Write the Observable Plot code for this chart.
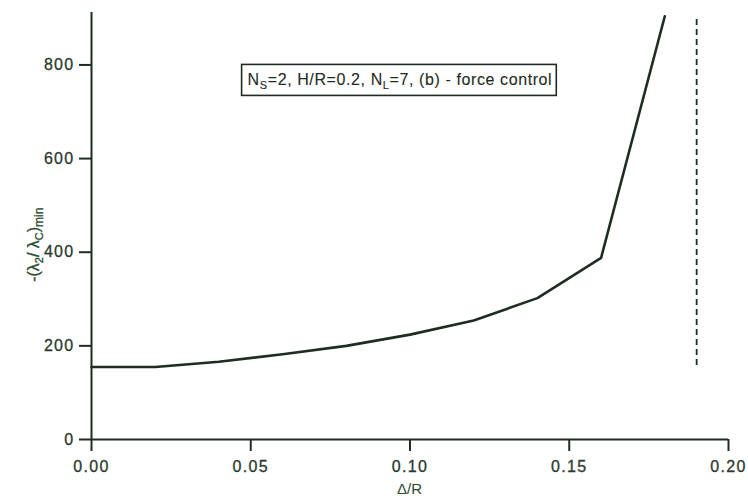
<!DOCTYPE html>
<html><head><meta charset="utf-8">
<script src="https://cdn.jsdelivr.net/npm/d3@7"></script>
<script src="https://cdn.jsdelivr.net/npm/@observablehq/plot@0.6"></script>
<style>body{margin:0;background:#fff;overflow:hidden;} svg{font-family:"Liberation Sans",Arial,sans-serif;display:block;}</style>
</head><body><div id="chart"></div>
<script>
const deltaR = [0.00, 0.02, 0.04, 0.06, 0.08, 0.10, 0.12, 0.14, 0.16, 0.18];
const ratio  = [155, 155, 166, 182, 200, 224, 254, 302, 388, 904];
const limitX = 0.19;
const limitY = [158, 904];
const xTicks = [0, 0.05, 0.10, 0.15, 0.20];
const yTicks = [0, 200, 400, 600, 800];
const ink = "#1e2c22";
const labelInk = "#2a3a2e";
const data = deltaR.map((d, i) => ({x: d, y: ratio[i]}));

const plot = Plot.plot({
  width: 748, height: 501,
  marginLeft: 91, marginRight: 20, marginTop: 12, marginBottom: 62,
  style: {fontSize: "16px", fontFamily: "Liberation Sans, Arial, sans-serif", color: ink},
  x: {domain: [0, 0.2]},
  y: {domain: [0, 912]},
  marks: [
    Plot.ruleX([0], {stroke: ink, strokeWidth: 2}),
    Plot.ruleY([0], {stroke: ink, strokeWidth: 2}),
    Plot.axisX({ticks: xTicks, tickFormat: d3.format(".2f"), tickSize: 12, tickPadding: 9, label: null, stroke: ink, strokeWidth: 2, fontSize: 16, fill: labelInk}),
    Plot.axisY({ticks: yTicks, tickSize: 12, tickPadding: 5, label: null, stroke: ink, strokeWidth: 2, fontSize: 16, fill: labelInk}),
    Plot.ruleX([limitX], {y1: limitY[0], y2: limitY[1], stroke: ink, strokeWidth: 1.8, strokeDasharray: "6,4"}),
    Plot.line(data, {x: "x", y: "y", stroke: ink, strokeWidth: 2.6})
  ]
});
document.getElementById("chart").appendChild(plot);

const svg = d3.select(plot);
// widen tick label glyph spacing like the printed original
svg.selectAll("g[aria-label='x-axis tick label'] text, g[aria-label='y-axis tick label'] text")
  .attr("letter-spacing", "1.3px").attr("stroke", labelInk).attr("stroke-width", 0.3);
const xs = plot.scale("x"), ys = plot.scale("y");
// x label
svg.append("text").attr("x", xs.apply(0.1)).attr("y", 494).attr("text-anchor", "middle")
  .attr("font-size", 15).attr("fill", "#2a4a30").text("Δ/R");
// y label
const yl = svg.append("text").attr("transform", `translate(39,${ys.apply(415)}) rotate(-90)`)
  .attr("text-anchor", "middle").attr("font-size", 16).attr("fill", "#2a4a30")
  .attr("stroke", "#2a4a30").attr("stroke-width", 0.3);
yl.append("tspan").text("-(λ");
yl.append("tspan").attr("font-size", 11).attr("dy", 4).text("2");
yl.append("tspan").attr("dy", -4).text("/ λ");
yl.append("tspan").attr("font-size", 11).attr("dy", 4).text("C");
yl.append("tspan").attr("dy", -4).text(")");
yl.append("tspan").attr("font-size", 12).attr("dy", 4).text("min");
// annotation box
const cx = xs.apply(0.097), cy = ys.apply(768);
const box = svg.append("rect");
const t = svg.append("text").attr("x", cx).attr("y", cy + 6).attr("text-anchor", "middle")
  .attr("font-size", 16).attr("letter-spacing", "0.6px").attr("fill", ink)
  .attr("stroke", ink).attr("stroke-width", 0.1);
t.append("tspan").text("N");
t.append("tspan").attr("font-size", 11).attr("dy", 4).text("S");
t.append("tspan").attr("dy", -4).text("=2, H/R=0.2, N");
t.append("tspan").attr("font-size", 11).attr("dy", 4).text("L");
t.append("tspan").attr("dy", -4).text("=7, (b) - force control");
const bb = t.node().getBBox();
box.attr("x", bb.x - 6).attr("y", cy - 15).attr("width", bb.width + 10).attr("height", 31)
  .attr("fill", "white").attr("stroke", ink).attr("stroke-width", 1.6);
</script></body></html>
